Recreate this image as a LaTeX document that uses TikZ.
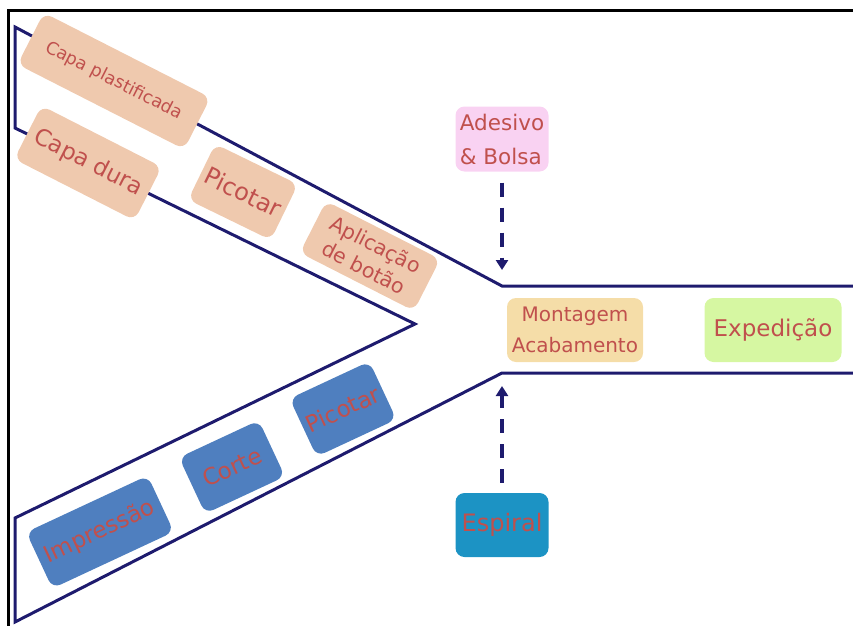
\documentclass[tikz,border=0pt]{standalone}
\usepackage{fontspec}
\setmainfont{DejaVu Sans}
\usetikzlibrary{arrows.meta}
\definecolor{linha}{HTML}{1E1B6E}
\definecolor{texto}{HTML}{C0504D}
\definecolor{capa}{HTML}{EFC9AE}
\definecolor{miolo}{HTML}{4F7FBF}
\definecolor{montagem}{HTML}{F5DDA8}
\definecolor{expedicao}{HTML}{D6F7A2}
\definecolor{adesivo}{HTML}{F9D2F2}
\definecolor{espiral}{HTML}{1C93C4}
\tikzset{
  etapa/.style={rounded corners=9pt, text=texto, align=center, inner sep=1pt},
  etapacapa/.style={etapa, fill=capa, rotate=-27},
  etapamiolo/.style={etapa, fill=miolo, rotate=25},
  seta/.style={linha, line width=4pt, dash pattern=on 14pt off 11pt,
    -{Triangle[width=12pt,length=10pt]}},
}
\newcommand{\fs}[1]{\fontsize{#1}{1.3\dimexpr#1pt\relax}\selectfont}
\begin{document}
\begin{tikzpicture}[x=1pt,y=-1pt]
        \useasboundingbox (0,0) rectangle (853,626);
        \coordinate (F1) at (853,11);
        \coordinate (F2) at (8,11);
        \coordinate (F3) at (8,626);
        \draw[line width=3pt] (F1)--(F2)--(F3);
        \coordinate (A) at (853,286);
        \coordinate (B) at (502,286);
        \coordinate (C) at (15,27);
        \coordinate (D) at (15,128);
        \coordinate (E) at (415,324);
        \coordinate (G) at (15,518);
        \coordinate (H) at (15,622);
        \coordinate (I) at (502,373);
        \coordinate (J) at (853,373);
        \draw[linha, line width=3pt] (A)--(B)--(C)--(D)--(E)--(G)--(H)--(I)--(J);
        \node[etapacapa, minimum width=187pt, minimum height=58pt, font=\fs{17.5}] (plast) at (114,81) {Capa plastificada};
        \node[etapacapa, minimum width=135pt, minimum height=60pt, font=\fs{23}] (dura) at (88,163) {Capa dura};
        \node[etapacapa, rotate=1, minimum width=92pt, minimum height=62pt, font=\fs{24}] (picotar1) at (243,192) {Picotar};
        \node[etapacapa, minimum width=128pt, minimum height=58pt, font=\fontsize{20.5}{26}\selectfont] (botao) at (370,256) {Aplicação\\de botão};
        \node[etapamiolo, minimum width=134pt, minimum height=62pt, font=\fs{23}] (impressao) at (100,532) {Impressão};
        \node[etapamiolo, minimum width=88pt, minimum height=62pt, font=\fs{23}] (corte) at (232,467) {Corte};
        \node[etapamiolo, minimum width=88pt, minimum height=64pt, font=\fs{23}] (picotar2) at (343,409) {Picotar};
        \node[etapa, fill=montagem, minimum width=136pt, minimum height=64pt, font=\fontsize{20}{31}\selectfont] (montagem) at (575,330) {Montagem\\Acabamento};
        \node[etapa, fill=expedicao, minimum width=137pt, minimum height=64pt, font=\fs{23}] (expedicao) at (773,330) {Expedição};
        \node[etapa, fill=adesivo, align=left, minimum width=93pt, minimum height=65pt, font=\fontsize{21.5}{34}\selectfont] (adesivo) at (502,139) {Adesivo\\\& Bolsa};
        \node[etapa, fill=espiral, minimum width=93pt, minimum height=64pt, font=\fs{24}] (espiral) at (502,525) {Espiral};
        \coordinate (entrada1) at (502,270);
        \coordinate (entrada2) at (502,386);
        \draw[seta, shorten <=11pt] (adesivo)--(entrada1);
        \draw[seta, shorten <=10pt] (espiral)--(entrada2);
\end{tikzpicture}
\end{document}
